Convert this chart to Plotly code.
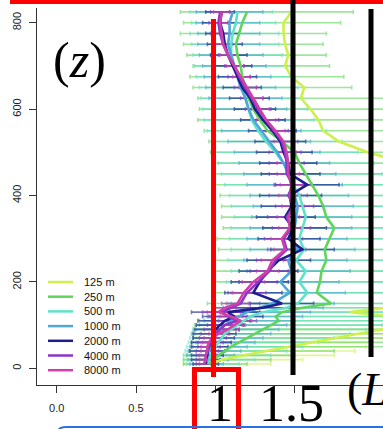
import plotly.graph_objects as go

# ---------------- data ----------------
heights = [10, 20, 30, 40, 50, 60, 70, 80, 90, 100, 110, 120, 130, 140, 150, 175, 200, 225, 250, 275,
           300, 325, 350, 375, 400, 425, 450, 475, 500, 525, 550, 575, 600, 625, 650, 675, 700, 725,
           750, 775, 800, 825]

series_names = ["125 m", "250 m", "500 m", "1000 m", "2000 m", "4000 m", "8000 m"]
series_colors = ["#cdf04a", "#5fd65a", "#5fe3c8", "#4ea6d9", "#1d1d8f", "#8e35c9", "#d040a8"]

m125 = [0.97, 1.04, 1.18, 1.32, 1.47, 1.61, 1.76, 1.90, 2.05, 2.15, 2.20, 2.12, 1.85, 2.10, 2.30, 2.45,
        2.50, 2.50, 2.50, 2.50, 2.50, 2.50, 2.50, 2.45, 2.40, 2.35, 2.30, 2.20, 1.96, 1.78, 1.68, 1.65,
        1.60, 1.54, 1.56, 1.48, 1.44, 1.46, 1.44, 1.43, 1.43, 1.48]
m250 = [0.96, 0.99, 1.02, 1.06, 1.10, 1.15, 1.20, 1.25, 1.30, 1.35, 1.40, 1.38, 1.42, 1.55, 1.73, 1.64,
        1.66, 1.67, 1.70, 1.69, 1.72, 1.75, 1.70, 1.68, 1.65, 1.61, 1.57, 1.53, 1.50, 1.42, 1.33, 1.28,
        1.24, 1.21, 1.19, 1.17, 1.16, 1.14, 1.13, 1.15, 1.17, 1.20]
m500 = [0.95, 0.96, 0.97, 0.98, 1.00, 1.02, 1.04, 1.06, 1.10, 1.14, 1.18, 1.22, 1.30, 1.45, 1.52, 1.58,
        1.53, 1.57, 1.51, 1.56, 1.53, 1.55, 1.57, 1.55, 1.53, 1.49, 1.48, 1.43, 1.38, 1.32, 1.27, 1.23,
        1.21, 1.19, 1.17, 1.15, 1.12, 1.10, 1.10, 1.11, 1.13, 1.14]
m1000 = [0.94, 0.95, 0.95, 0.96, 0.97, 0.98, 0.99, 1.01, 1.03, 1.06, 1.10, 1.15, 1.20, 1.28, 1.36, 1.47,
         1.41, 1.48, 1.46, 1.52, 1.47, 1.50, 1.51, 1.52, 1.50, 1.48, 1.46, 1.43, 1.39, 1.34, 1.29, 1.24,
         1.21, 1.19, 1.16, 1.14, 1.12, 1.10, 1.08, 1.09, 1.09, 1.11]
m2000 = [0.94, 0.94, 0.95, 0.95, 0.96, 0.97, 0.98, 0.99, 1.00, 1.03, 1.06, 1.12, 1.08, 1.30, 1.42, 1.24,
         1.28, 1.33, 1.40, 1.55, 1.46, 1.49, 1.44, 1.48, 1.47, 1.58, 1.47, 1.46, 1.43, 1.41, 1.36, 1.30,
         1.25, 1.22, 1.17, 1.14, 1.11, 1.08, 1.06, 1.05, 1.03, 1.04]
m4000 = [0.93, 0.94, 0.94, 0.95, 0.96, 0.97, 0.98, 1.00, 1.03, 1.06, 1.14, 1.08, 1.04, 1.10, 1.16, 1.20,
         1.27, 1.34, 1.38, 1.45, 1.43, 1.48, 1.45, 1.50, 1.46, 1.49, 1.45, 1.45, 1.44, 1.42, 1.37, 1.32,
         1.27, 1.23, 1.19, 1.15, 1.12, 1.08, 1.05, 1.03, 1.02, 1.03]
m8000 = [0.93, 0.94, 0.94, 0.95, 0.95, 0.96, 0.98, 1.02, 1.08, 1.12, 1.16, 1.10, 1.02, 1.06, 1.14, 1.18,
         1.24, 1.33, 1.36, 1.44, 1.42, 1.47, 1.46, 1.49, 1.47, 1.48, 1.46, 1.46, 1.45, 1.43, 1.38, 1.32,
         1.28, 1.24, 1.20, 1.16, 1.12, 1.08, 1.05, 1.04, 1.03, 1.04]

N = None
lo125 = [0.80, 0.82, 0.80, 0.83, 0.85, 0.85, 0.88, 0.90, 0.92] + [N] * 33
hi125 = [1.35, 1.55, 1.75, 1.88, 1.95, 1.98, 2.10, 2.20, 2.30] + [N] * 33
lo250 = [0.80, 0.80, 0.82, 0.84, 0.86, 0.88, 0.86, 0.85, 0.86, 0.87, 0.90, 0.95, 0.98, 1.00, 0.95, 0.98,
         0.99, 0.99, 1.00, 1.02, 1.01, 1.05, 1.04, 1.04, 1.03, 1.00, 0.99, 0.98, 0.97, 0.96, 0.93, 0.89,
         0.90, 0.89, 0.86, 0.84, 0.86, 0.82, 0.80, 0.78, 0.80, 0.78]
hi250 = [1.20, 1.35, 1.50, 1.75, 2.10, 2.30, 2.30, 2.30, 2.30, 2.30, 2.30, 2.30, 2.40, 2.40, 2.40, 2.40,
         2.40, 2.40, 2.40, 2.40, 2.40, 2.40, 2.40, 2.40, 2.40, 2.40, 2.40, 2.40, 2.30, 2.25, 2.20, 2.20,
         2.20, 2.20, 1.86, 1.81, 1.72, 1.70, 1.68, 1.70, 1.79, 1.87]
lo500 = [0.82, 0.80, 0.80, 0.81, 0.82, 0.83, 0.84, 0.85, 0.86, 0.88, 0.90, 0.95, 1.00, 1.05, 1.08, 1.10,
         1.07, 1.10, 1.08, 1.10, 1.09, 1.10, 1.12, 1.10, 1.09, 1.06, 1.04, 1.02, 1.00, 0.98, 0.95, 0.93,
         0.92, 0.91, 0.90, 0.88, 0.87, 0.86, 0.85, 0.84, 0.85, 0.84]
hi500 = [1.15, 1.25, 1.35, 1.45, 1.55, 1.65, 1.75, 1.85, 1.95, 2.05, 2.10, 2.15, 2.20, 2.20, 2.20, 2.20,
         2.20, 2.20, 2.20, 2.20, 2.20, 2.20, 2.20, 2.20, 2.15, 2.10, 2.05, 2.00, 1.90, 1.80, 1.70, 1.62,
         1.58, 1.55, 1.52, 1.50, 1.45, 1.42, 1.40, 1.40, 1.38, 1.36]
lo1000 = [0.84, 0.83, 0.82, 0.83, 0.84, 0.85, 0.86, 0.87, 0.88, 0.90, 0.93, 0.97, 1.00, 1.05, 1.10, 1.18,
          1.15, 1.20, 1.18, 1.22, 1.20, 1.22, 1.23, 1.24, 1.22, 1.20, 1.18, 1.15, 1.12, 1.08, 1.04, 1.00,
          0.98, 0.96, 0.94, 0.93, 0.92, 0.90, 0.89, 0.89, 0.88, 0.88]
hi1000 = [1.05, 1.08, 1.12, 1.16, 1.20, 1.25, 1.30, 1.35, 1.40, 1.45, 1.50, 1.55, 1.60, 1.68, 1.75, 1.82,
          1.78, 1.85, 1.83, 1.88, 1.83, 1.86, 1.86, 1.87, 1.84, 1.80, 1.76, 1.72, 1.66, 1.60, 1.54, 1.48,
          1.45, 1.42, 1.38, 1.35, 1.32, 1.30, 1.28, 1.28, 1.28, 1.30]
lo2000 = [0.86, 0.85, 0.85, 0.84, 0.85, 0.85, 0.86, 0.86, 0.87, 0.88, 0.89, 0.92, 0.85, 1.08, 1.22, 1.06,
          1.10, 1.15, 1.20, 1.35, 1.27, 1.30, 1.26, 1.29, 1.28, 1.38, 1.29, 1.28, 1.26, 1.25, 1.21, 1.16,
          1.12, 1.09, 1.05, 1.02, 0.99, 0.97, 0.95, 0.94, 0.92, 0.94]
hi2000 = [1.02, 1.03, 1.05, 1.06, 1.08, 1.10, 1.12, 1.13, 1.15, 1.18, 1.22, 1.30, 1.28, 1.50, 1.62, 1.42,
          1.46, 1.52, 1.60, 1.75, 1.66, 1.70, 1.63, 1.68, 1.67, 1.78, 1.66, 1.64, 1.61, 1.57, 1.51, 1.44,
          1.38, 1.34, 1.29, 1.26, 1.23, 1.20, 1.17, 1.15, 1.13, 1.12]
lo4000 = [0.88, 0.88, 0.88, 0.88, 0.89, 0.89, 0.90, 0.91, 0.93, 0.95, 1.02, 0.96, 0.92, 0.98, 1.04, 1.08,
          1.15, 1.22, 1.26, 1.33, 1.31, 1.36, 1.33, 1.38, 1.34, 1.37, 1.34, 1.34, 1.34, 1.33, 1.28, 1.24,
          1.19, 1.16, 1.12, 1.08, 1.06, 1.02, 0.99, 0.97, 0.96, 0.97]
hi4000 = [0.99, 1.00, 1.01, 1.02, 1.03, 1.05, 1.07, 1.09, 1.13, 1.17, 1.26, 1.20, 1.16, 1.22, 1.28, 1.32,
          1.39, 1.46, 1.50, 1.57, 1.55, 1.60, 1.57, 1.62, 1.58, 1.61, 1.56, 1.56, 1.54, 1.52, 1.46, 1.40,
          1.35, 1.30, 1.26, 1.22, 1.18, 1.14, 1.11, 1.09, 1.08, 1.09]
lo8000 = [0.90, 0.90, 0.90, 0.91, 0.91, 0.92, 0.93, 0.96, 1.01, 1.05, 1.09, 1.03, 0.95, 0.99, 1.07, 1.11,
          1.17, 1.26, 1.29, 1.37, 1.35, 1.40, 1.39, 1.42, 1.40, 1.41, 1.39, 1.39, 1.39, 1.37, 1.32, 1.26,
          1.23, 1.19, 1.15, 1.11, 1.07, 1.03, 1.00, 0.99, 0.98, 0.99]
hi8000 = [0.97, 0.98, 0.99, 1.00, 1.00, 1.01, 1.04, 1.08, 1.15, 1.19, 1.23, 1.17, 1.09, 1.13, 1.21, 1.25,
          1.31, 1.40, 1.43, 1.51, 1.49, 1.54, 1.53, 1.56, 1.54, 1.55, 1.53, 1.53, 1.51, 1.49, 1.44, 1.38,
          1.34, 1.30, 1.26, 1.22, 1.18, 1.14, 1.10, 1.09, 1.08, 1.09]

x_tickvals = [0, 0.5, 1, 1.5]
x_ticktext = ["0.0", "0.5", "", ""]
y_tickvals = [0, 200, 400, 600, 800]

means = [m125, m250, m500, m1000, m2000, m4000, m8000]
lows = [lo125, lo250, lo500, lo1000, lo2000, lo4000, lo8000]
highs = [hi125, hi250, hi500, hi1000, hi2000, hi4000, hi8000]

# ---------------- figure ----------------
W, H = 383, 429
ML, MR, MT, MB = 37, 0, 8, 44


def PX(p):
    return (p - ML) / (W - ML - MR)


def PY(p):
    return (H - MB - p) / (H - MT - MB)


def rgba(hexc, a):
    h = hexc.lstrip("#")
    return "rgba(%d,%d,%d,%.2f)" % (int(h[0:2], 16), int(h[2:4], 16), int(h[4:6], 16), a)


fig = go.Figure()

# error bars
for name, col, m, lo, hi in zip(series_names, series_colors, means, lows, highs):
    xs, plus, minus = [], [], []
    for mv, l, h in zip(m, lo, hi):
        if l is None:
            xs.append(None); plus.append(0); minus.append(0)
        else:
            xs.append(mv); plus.append(h - mv); minus.append(mv - l)
    fig.add_trace(go.Scatter(
        x=xs, y=heights, mode="markers",
        marker=dict(size=1, opacity=0),
        error_x=dict(type="data", symmetric=False, array=plus, arrayminus=minus,
                     color=rgba(col, 0.6), thickness=1.6, width=2),
        showlegend=False, hoverinfo="skip"))

# mean lines
for name, col, m in zip(series_names, series_colors, means):
    fig.add_trace(go.Scatter(x=m, y=heights, mode="lines", name=name,
                             line=dict(color=col, width=2.6), showlegend=False))

shapes = []
annotations = []

# manual legend
for i, (name, col) in enumerate(zip(series_names, series_colors)):
    yy = 282 + 14.7 * i
    shapes.append(dict(type="line", xref="paper", yref="paper", x0=PX(48), x1=PX(73),
                       y0=PY(yy), y1=PY(yy), line=dict(color=col, width=2.5)))
    annotations.append(dict(xref="paper", yref="paper", x=PX(82), y=PY(yy), text=name,
                            showarrow=False, xanchor="left", yanchor="middle",
                            font=dict(family="Liberation Sans, Arial", size=11, color="#111")))

# overlay annotations (red / black / blue marks)
shapes += [
    dict(type="rect", xref="paper", yref="paper", x0=PX(10), x1=PX(395), y0=PY(4), y1=PY(-3),
         fillcolor="#ff0000", line=dict(width=0)),
    dict(type="line", xref="paper", yref="paper", x0=PX(213.5), x1=PX(213.5), y0=PY(19), y1=PY(377),
         line=dict(color="#ff0000", width=5)),
    dict(type="rect", xref="paper", yref="paper", x0=PX(194.5), x1=PX(238.5), y0=PY(369.5), y1=PY(445),
         line=dict(color="#ff0000", width=5)),
    dict(type="line", xref="paper", yref="paper", x0=PX(293), x1=PX(293), y0=PY(-3), y1=PY(375),
         line=dict(color="#000000", width=5)),
    dict(type="line", xref="paper", yref="paper", x0=PX(371), x1=PX(371), y0=PY(9), y1=PY(357),
         line=dict(color="#000000", width=5)),
    dict(type="path", xref="paper", yref="paper",
         path="M %f,%f L %f,%f Q %f,%f %f,%f L %f,%f" % (
             PX(57), PY(445), PX(57), PY(435), PX(57), PY(427), PX(66), PY(427), PX(400), PY(427)),
         line=dict(color="#2b6fe6", width=2)),
]

serif = "Liberation Serif, Times New Roman, serif"
annotations += [
    dict(xref="paper", yref="paper", x=PX(79), y=PY(60), text="(<i>z</i>)", showarrow=False,
         xanchor="center", yanchor="middle", font=dict(family=serif, size=50, color="#000")),
    dict(xref="paper", yref="paper", x=PX(220), y=PY(403), text="1", showarrow=False,
         xanchor="center", yanchor="middle", font=dict(family=serif, size=52, color="#000")),
    dict(xref="paper", yref="paper", x=PX(291), y=PY(403), text="1.5", showarrow=False,
         xanchor="center", yanchor="middle", font=dict(family=serif, size=52, color="#000")),
    dict(xref="paper", yref="paper", x=PX(345), y=PY(390), text="(<i>L</i>", showarrow=False,
         xanchor="left", yanchor="middle", font=dict(family=serif, size=46, color="#000")),
]

axis_font = dict(family="Liberation Sans, Arial", size=11, color="#222")
fig.update_layout(
    width=W, height=H, margin=dict(l=ML, r=MR, t=MT, b=MB, pad=0),
    paper_bgcolor="white", plot_bgcolor="white",
    showlegend=False,
    xaxis=dict(range=[(ML - 56.7) / 158.6, (W - 56.7) / 158.6], tickvals=x_tickvals, ticktext=x_ticktext,
               showgrid=False, zeroline=False, showline=True, linecolor="#333", linewidth=1,
               ticks="outside", ticklen=7, tickcolor="#333", tickfont=axis_font, ticklabelstandoff=6),
    yaxis=dict(range=[(368.3 - 385) / 0.432, (368.3 - 8) / 0.432], tickvals=y_tickvals,
               showgrid=False, zeroline=False, showline=True, linecolor="#333", linewidth=1,
               ticks="outside", ticklen=7, tickcolor="#333", tickfont=axis_font, tickangle=-90,
               ticklabelstandoff=4),
    shapes=shapes, annotations=annotations,
)

fig.write_html("out.html", config={"displayModeBar": False},
               post_script="document.body.style.margin='0';document.body.style.overflow='hidden';")
